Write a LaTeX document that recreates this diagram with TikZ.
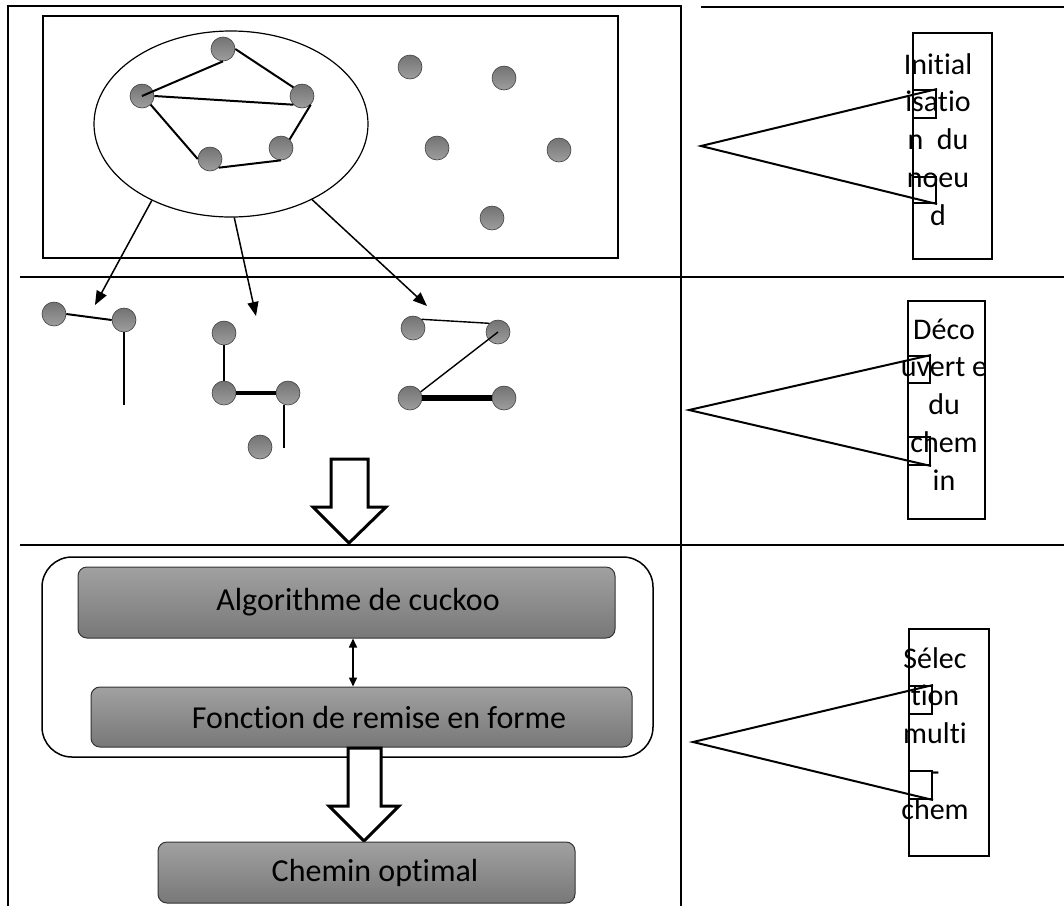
\documentclass[tikz,border=0pt]{standalone}
\usepackage{fontspec}
\setmainfont{Carlito}[Ligatures=NoCommon]
\usetikzlibrary{arrows.meta,shapes.geometric}

\tikzset{
	frameline/.style={line width=1.5pt},
	sensor/.style={circle, draw=black!75, line width=0.6pt, top color=black!55, bottom color=black!38, minimum size=24pt, inner sep=0pt},
	link/.style={line width=2pt},
	thinlink/.style={line width=1.4pt},
	fatlink/.style={line width=4pt},
	flow/.style={-{Triangle[length=14pt,width=11pt]}, line width=1.5pt},
	twoway/.style={{Triangle[length=9pt,width=8pt]}-{Triangle[length=9pt,width=8pt]}, line width=1.5pt},
	procbox/.style={draw=black!80, line width=1pt, rounded corners=9pt, top color=black!37, bottom color=black!53, inner sep=0pt},
	boxtext/.style={font=\fontsize{32}{38}\selectfont, inner sep=0pt},
	hollow/.style={draw, line width=3pt, fill=white, line join=miter},
	callbox/.style={draw, line width=2pt, inner sep=0pt},
	calltext/.style={font=\fontsize{30}{36}\selectfont, anchor=base, inner sep=0pt}
}

\begin{document}
\begin{tikzpicture}[x=1pt,y=-1pt]
		\useasboundingbox (0,0) rectangle (1064,906);

		\draw[frameline] (8,906) -- (8,6) -- (681,6) -- (681,906);
		\draw[frameline] (701,7) -- (1064,7);
		\draw[frameline] (20,277) -- (1064,277);
		\draw[frameline] (20,545) -- (1064,545);

		\draw[line width=2.5pt] (43,16) rectangle (618,258);
		\node[ellipse, draw, line width=1.2pt, minimum width=274pt, minimum height=186pt, inner sep=0pt] (clu) at (231,124) {};

		\node[sensor] (t) at (223,49) {};
		\node[sensor] (l) at (142,96) {};
		\node[sensor] (r) at (302,96) {};
		\node[sensor] (br) at (281,148) {};
		\node[sensor] (b) at (210,159) {};

		\draw[link] (l.center) -- (t.south);
		\draw[link] (t.east) -- (r.north west);
		\draw[link] (l.east) -- (r.south west);
		\draw[link] (l.south east) -- (b.west);
		\draw[link] (r.south east) -- (br.north east);
		\draw[link] (b.south east) -- (br.south);

		\node[sensor] (o1) at (410,67) {};
		\node[sensor] (o2) at (504,78) {};
		\node[sensor] (o3) at (437,148) {};
		\node[sensor] (o4) at (559,150) {};
		\node[sensor] (o5) at (492,218) {};

		\coordinate (a1) at (95,305);
		\coordinate (a2) at (256,316);
		\coordinate (a3) at (427,306);
		\draw[flow] (clu.224) -- (a1);
		\draw[flow] (clu.272) -- (a2);
		\draw[flow] (clu.317) -- (a3);

		\node[sensor] (g1a) at (54,314) {};
		\node[sensor] (g1b) at (124,320) {};
		\coordinate (g1e) at (124,405);
		\draw[link] (g1a.east) -- (g1b.west);
		\draw[thinlink] (g1b.south) -- (g1e);

		\node[sensor] (g2a) at (224,333) {};
		\node[sensor] (g2b) at (224,393) {};
		\node[sensor] (g2c) at (288,393) {};
		\node[sensor] (g2d) at (260,447) {};
		\coordinate (g2e) at (284,448);
		\draw[thinlink] (g2a) -- (g2b);
		\draw[fatlink] (g2b.east) -- (g2c.west);
		\draw[thinlink] (g2e |- g2c.south) -- (g2e);

		\node[sensor] (g3a) at (413,328) {};
		\node[sensor] (g3b) at (498,332) {};
		\node[sensor] (g3c) at (410,398) {};
		\node[sensor] (g3d) at (504,398) {};
		\draw[thinlink] (g3a.north east) -- (g3b.north west);
		\draw[thinlink] (g3b.center) -- (g3c.30);
		\draw[line width=6pt] (g3c.east) -- (g3d.west);

		\draw[hollow] (331,459) -- (368,459) -- (368,507) -- (386,507) -- (349,543) -- (313,507) -- (331,507) -- cycle;

		\draw[line width=1.5pt, rounded corners=30pt] (42,557) rectangle (653,757);
		\node[procbox, minimum width=537pt, minimum height=71pt] (b1) at (346.5,602.5) {};
		\node[boxtext] (t1) at ([xshift=11.5pt]b1.center) {Algorithme de cuckoo};
		\node[procbox, minimum width=541pt, minimum height=60pt] (b2) at (361.5,717) {};
		\node[boxtext] (t2) at ([xshift=17.5pt]b2.center) {Fonction de remise en forme};
		\coordinate (dx) at (353,0);
		\draw[twoway] (b1.south -| dx) -- (b2.north -| dx);

		\draw[hollow] (348,748) -- (381,748) -- (381,806) -- (399,806) -- (364,841) -- (329,806) -- (348,806) -- cycle;
		\node[procbox, minimum width=417pt, minimum height=61pt] (b3) at (366.5,872.5) {};
		\node[boxtext] (t3) at ([xshift=8.5pt]b3.center) {Chemin optimal};

		\node[callbox, minimum width=79pt, minimum height=226pt] (cr1) at (952.5,146) {};
		\foreach \w [count=\i] in {Initial,isatio,n~~du,noeu,d}
			\node[calltext] (ta\i) at (938,{74+37.8*(\i-1)}) {\w};
		\node[callbox, minimum width=23pt, minimum height=28pt] (cu1) at (924.5,104) {};
		\node[callbox, minimum width=23pt, minimum height=26pt] (cl1) at (924.5,190) {};
		\coordinate (ct1) at (701,146);
		\draw[line width=2pt] (cu1.north east) -- (ct1) -- (cl1.south east);

		\node[callbox, minimum width=77pt, minimum height=218pt] (cr2) at (946.5,410) {};
		\foreach \w [count=\i] in {Déco,uvert e,du,chem,in}
			\node[calltext] (tb\i) at (944,{339+37.8*(\i-1)}) {\w};
		\node[callbox, minimum width=22pt, minimum height=27pt] (cu2) at (919,369.5) {};
		\node[callbox, minimum width=22pt, minimum height=28pt] (cl2) at (919,451) {};
		\coordinate (ct2) at (689,410);
		\draw[line width=2pt] (cu2.north east) -- (ct2) -- (cl2.south east);

		\node[callbox, minimum width=80pt, minimum height=227pt] (cr3) at (949,742.5) {};
		\foreach \w [count=\i] in {Sélec,tion,multi,-,chem}
			\node[calltext] (tc\i) at (935,{668+37.8*(\i-1)}) {\w};
		\node[callbox, minimum width=23pt, minimum height=28pt] (cu3) at (920.5,700) {};
		\node[callbox, minimum width=23pt, minimum height=28pt] (cl3) at (920.5,785) {};
		\coordinate (ct3) at (693,742);
		\draw[line width=2pt] (cu3.north east) -- (ct3) -- (cl3.south east);
	\end{tikzpicture}
\end{document}
